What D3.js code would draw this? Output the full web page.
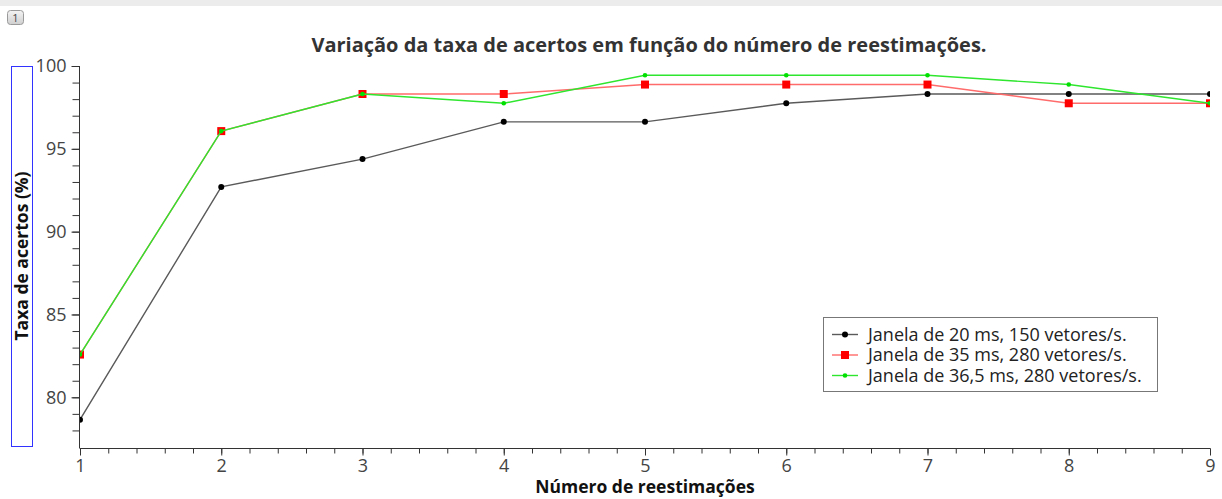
<!DOCTYPE html>
<html>
<head>
<meta charset="utf-8">
<script src="https://cdn.jsdelivr.net/npm/d3@7"></script>
<style>
  html, body { margin: 0; padding: 0; background: #fff; }
  svg { display: block; }
</style>
</head>
<body>
<svg id="chart" width="1222" height="499"></svg>
<script>
// Number of re-estimations (x) and hit rate (%) for each configuration
const reestimations = [1, 2, 3, 4, 5, 6, 7, 8, 9];
const janela20 = [78.65, 92.70, 94.38, 96.63, 96.63, 97.75, 98.31, 98.31, 98.31];
const janela35 = [82.58, 96.07, 98.31, 98.31, 98.88, 98.88, 98.88, 97.75, 97.75];
const janela365 = [82.58, 96.07, 98.31, 97.75, 99.44, 99.44, 99.44, 98.88, 97.75];
const seriesNames = [
  "Janela de 20 ms, 150 vetores/s.",
  "Janela de 35 ms, 280 vetores/s.",
  "Janela de 36,5 ms, 280 vetores/s."
];
const xTicks = [1, 2, 3, 4, 5, 6, 7, 8, 9];
const yTicks = [80, 85, 90, 95, 100];

const titleText = "Variação da taxa de acertos em função do número de reestimações.";
const xLabel = "Número de reestimações";
const yLabel = "Taxa de acertos (%)";

const svg = d3.select("#chart");
const font = "'Open Sans', 'Noto Sans', sans-serif";

const plot = { left: 80, right: 1210, top: 66, bottom: 448 };

const x = d3.scaleLinear().domain([1, 9]).range([plot.left, plot.right]);
const y = d3.scaleLinear().domain([77, 100]).range([plot.bottom - 1, plot.top]);

// Window chrome strip and page badge
svg.append("rect").attr("x", 0).attr("y", 0).attr("width", 1222).attr("height", 6).attr("fill", "#ececec");
const grad = svg.append("defs").append("linearGradient").attr("id", "badge").attr("x1", 0).attr("y1", 0).attr("x2", 0).attr("y2", 1);
grad.append("stop").attr("offset", "0").attr("stop-color", "#f4f4f4");
grad.append("stop").attr("offset", "1").attr("stop-color", "#cfcfcf");
svg.append("rect").attr("x", 7.5).attr("y", 10.5).attr("width", 16).attr("height", 14).attr("rx", 3)
  .attr("fill", "url(#badge)").attr("stroke", "#9a9a9a");
svg.append("text").attr("x", 15.5).attr("y", 22).attr("text-anchor", "middle")
  .attr("font-family", font).attr("font-size", 11).attr("fill", "#444").text("1");

// Title
svg.append("text")
  .attr("x", 649).attr("y", 52)
  .attr("text-anchor", "middle")
  .attr("font-family", font).attr("font-weight", "bold").attr("font-size", 20)
  .attr("fill", "#333")
  .text(titleText);

// Clip lines and markers to the plotting area
svg.append("defs").append("clipPath").attr("id", "plotClip")
  .append("rect").attr("x", plot.left).attr("y", 0).attr("width", plot.right - plot.left).attr("height", plot.bottom);

const series = [
  { name: seriesNames[0], values: janela20, line: "#5a5a5a", marker: "#000000", shape: "circle", size: 3 },
  { name: seriesNames[1], values: janela35, line: "#ff6b6b", marker: "#ff0000", shape: "square", size: 4 },
  { name: seriesNames[2], values: janela365, line: "#2ee62e", marker: "#00e000", shape: "circle", size: 2.3 }
];

const lineGen = d3.line().x((d, i) => x(reestimations[i])).y(d => y(d));

const g = svg.append("g").attr("clip-path", "url(#plotClip)");

function drawMarker(sel, s, cx, cy) {
  if (s.shape === "square") {
    sel.append("rect").attr("x", cx - s.size).attr("y", cy - s.size)
      .attr("width", s.size * 2).attr("height", s.size * 2).attr("fill", s.marker);
  } else {
    sel.append("circle").attr("cx", cx).attr("cy", cy).attr("r", s.size).attr("fill", s.marker);
  }
}

series.forEach(s => {
  g.append("path").datum(s.values)
    .attr("d", lineGen).attr("fill", "none")
    .attr("stroke", s.line).attr("stroke-width", 1.4);
  s.values.forEach((v, i) => drawMarker(g, s, x(reestimations[i]), y(v)));
});

// Axes
const tickColor = "#333";
const labelColor = "#444";

// Y axis: major ticks every 5, minor every 1
const yAxisG = svg.append("g").attr("transform", `translate(${plot.left - 0.5},0)`);
yAxisG.append("line").attr("x1", 0).attr("x2", 0).attr("y1", y(100)).attr("y2", plot.bottom)
  .attr("stroke", tickColor).attr("stroke-width", 1);
yAxisG.call(d3.axisLeft(y).tickValues(d3.range(78, 101, 1)).tickSize(7).tickFormat(""))
  .call(a => a.select(".domain").remove())
  .call(a => a.selectAll("line").attr("stroke", tickColor));
yAxisG.append("g").call(d3.axisLeft(y).tickValues(yTicks).tickSize(8).tickPadding(5))
  .call(a => a.select(".domain").remove())
  .call(a => a.selectAll("line").attr("stroke", tickColor))
  .call(a => a.selectAll("text").attr("font-family", font).attr("font-size", 18).attr("fill", labelColor));

// X axis: major ticks every 1, minor every 0.2
const xAxisG = svg.append("g").attr("transform", `translate(0,${plot.bottom + 0.5})`);
xAxisG.call(d3.axisBottom(x).tickValues(d3.range(0, 41).map(k => 1 + k * 0.2)).tickSize(5).tickFormat(""))
  .call(a => a.select(".domain").remove())
  .call(a => a.selectAll("line").attr("stroke", tickColor));
xAxisG.append("line").attr("x1", plot.left - 0.5).attr("x2", plot.right).attr("y1", 0).attr("y2", 0)
  .attr("stroke", tickColor);
xAxisG.append("g").call(d3.axisBottom(x).tickValues(xTicks).tickSize(7).tickPadding(4))
  .call(a => a.select(".domain").remove())
  .call(a => a.selectAll("line").attr("stroke", tickColor))
  .call(a => a.selectAll("text").attr("font-family", font).attr("font-size", 18).attr("fill", labelColor));

// Axis titles
svg.append("text")
  .attr("x", 645).attr("y", 493)
  .attr("text-anchor", "middle")
  .attr("font-family", font).attr("font-weight", "bold").attr("font-size", 17.5)
  .attr("fill", "#111")
  .text(xLabel);

svg.append("rect").attr("x", 11.5).attr("y", 66.5).attr("width", 21).attr("height", 380)
  .attr("fill", "none").attr("stroke", "#3333ff").attr("stroke-width", 1);
svg.append("text")
  .attr("transform", "translate(28,256) rotate(-90)")
  .attr("text-anchor", "middle")
  .attr("font-family", font).attr("font-weight", "bold").attr("font-size", 17.5)
  .attr("fill", "#111")
  .text(yLabel);

// Legend
const legend = svg.append("g");
legend.append("rect").attr("x", 823.5).attr("y", 317.5).attr("width", 334).attr("height", 74)
  .attr("fill", "#fff").attr("stroke", "#777");
series.forEach((s, i) => {
  const cy = 334.5 + i * 20.5;
  legend.append("line").attr("x1", 832).attr("x2", 858).attr("y1", cy).attr("y2", cy)
    .attr("stroke", s.line).attr("stroke-width", 1.4);
  drawMarker(legend, s, 845, cy);
  legend.append("text").attr("x", 868).attr("y", cy + 6)
    .attr("font-family", font).attr("font-size", 18).attr("fill", "#222")
    .text(s.name);
});
</script>
</body>
</html>
